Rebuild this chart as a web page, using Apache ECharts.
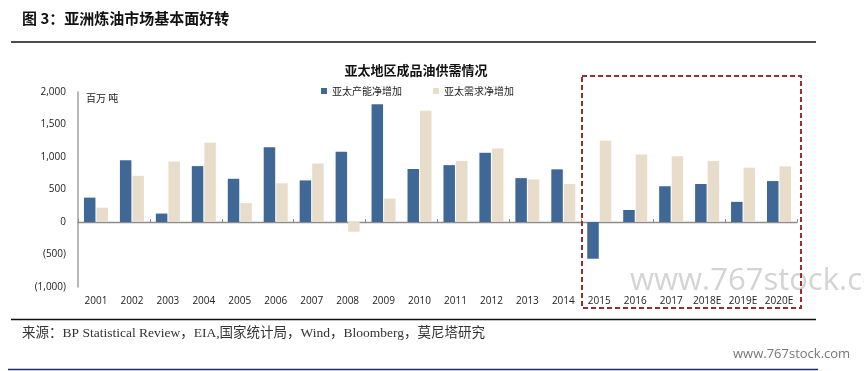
<!DOCTYPE html>
<html>
<head>
<meta charset="utf-8">
<script src="https://cdn.jsdelivr.net/npm/echarts@6/dist/echarts.min.js"></script>
<style>html,body{margin:0;padding:0;background:#fff;}#c{width:864px;height:371px;}</style>
</head>
<body>
<div id="c"></div>
<script>
var categories = ['2001','2002','2003','2004','2005','2006','2007','2008','2009','2010','2011','2012','2013','2014','2015','2016','2017','2018E','2019E','2020E'];
var capacityNet = [375, 950, 130, 860, 665, 1150, 640, 1080, 1810, 815, 875, 1065, 675, 810, -565, 185, 550, 585, 310, 630];
var demandNet = [220, 710, 930, 1220, 290, 595, 900, -150, 360, 1710, 940, 1130, 655, 585, 1250, 1040, 1010, 940, 835, 855];
var seriesNames = ['亚太产能净增加', '亚太需求净增加'];
var yTicks = { min: -1000, max: 2000, interval: 500 };

var chart = echarts.init(document.getElementById('c'), null, { renderer: 'canvas' });
function fmt(v) { return String(Math.abs(v)).replace(/\B(?=(\d{3})+(?!\d))/g, ','); }
var cjk = '"Noto Sans CJK SC", "Noto Sans", sans-serif';
var option = {
  animation: false,
  backgroundColor: '#fff',
  grid: { left: 78, right: 67, top: 92, bottom: 84, containLabel: false },
  legend: {
    data: seriesNames, left: 321, top: 86, padding: 0, icon: 'rect', itemWidth: 6, itemHeight: 6,
    itemGap: 31, textStyle: { fontSize: 10, color: '#222', fontFamily: cjk }
  },
  xAxis: [
    { type: 'category', data: categories, position: 'bottom',
      axisLine: { show: false, onZero: false }, axisTick: { show: false },
      axisLabel: { fontSize: 10, color: '#222', margin: 9, fontFamily: 'Open Sans, sans-serif', interval: 0 } },
    { type: 'category', data: categories, position: 'bottom',
      axisLine: { show: true, onZero: true, lineStyle: { color: '#8c8c8c', width: 1.3 } },
      axisTick: { show: true, inside: true, length: 3, lineStyle: { color: '#8c8c8c' } },
      axisLabel: { show: false } }
  ],
  yAxis: {
    type: 'value', min: yTicks.min, max: yTicks.max, interval: yTicks.interval,
    axisLine: { show: true, lineStyle: { color: '#a0a0a0', width: 1.5 } },
    axisTick: { show: false }, splitLine: { show: false },
    axisLabel: { fontSize: 10, color: '#222', margin: 12, fontFamily: 'Open Sans, sans-serif',
      formatter: function (v) { return v < 0 ? '(' + fmt(v) + ')' : fmt(v); } }
  },
  series: [
    { name: seriesNames[0], type: 'bar', data: capacityNet, barWidth: 11.5, barGap: '9%',
      itemStyle: { color: '#3F6897' } },
    { name: seriesNames[1], type: 'bar', data: demandNet, barWidth: 11.5, barGap: '9%',
      itemStyle: { color: '#E8DDCB' } }
  ],
  graphic: [
    { type: 'text', z: -1, left: 630, top: 266, style: { text: 'www.767stock.com', fontSize: 31, fill: '#d4d4d4', fontFamily: 'Open Sans, sans-serif' } },
    { type: 'text', left: 22, top: 11, style: { text: '图 3：亚洲炼油市场基本面好转', fontSize: 15, fontWeight: 'bold', fill: '#111', fontFamily: cjk } },
    { type: 'line', shape: { x1: 11, y1: 42, x2: 816, y2: 42 }, style: { stroke: '#111', lineWidth: 1.3 } },
    { type: 'text', x: 416, y: 70, style: { text: '亚太地区成品油供需情况', fontSize: 13, fontWeight: 'bold', fill: '#111', fontFamily: cjk, textAlign: 'center', textVerticalAlign: 'middle' } },
    { type: 'text', left: 86, top: 93, style: { text: '百万 吨', fontSize: 10, fill: '#222', fontFamily: cjk } },
    { type: 'rect', z: 100, shape: { x: 582, y: 76, width: 219, height: 232 }, style: { fill: 'none', stroke: '#9E2B2E', lineWidth: 2, lineDash: [5, 3] } },
    { type: 'line', shape: { x1: 11, y1: 319.5, x2: 816, y2: 319.5 }, style: { stroke: '#111', lineWidth: 1.3 } },
    { type: 'text', left: 22, top: 327, style: { text: '来源：BP Statistical Review，EIA,国家统计局，Wind，Bloomberg，莫尼塔研究', fontSize: 13.5, fill: '#333', fontFamily: '"Liberation Serif", "Noto Sans CJK SC", serif' } },
    { type: 'text', left: 733, top: 348, style: { text: 'www.767stock.com', fontSize: 13, fill: '#777', fontFamily: 'Open Sans, sans-serif' } },
    { type: 'line', shape: { x1: 8, y1: 369.5, x2: 818, y2: 369.5 }, style: { stroke: '#1F2A6B', lineWidth: 1.5 } }
  ]
};
chart.setOption(option);
</script>
</body>
</html>
